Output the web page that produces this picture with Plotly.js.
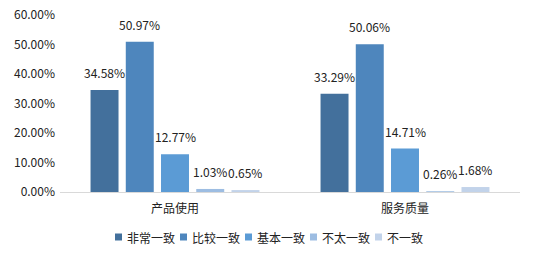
<!DOCTYPE html>
<html><head><meta charset="utf-8">
<script src="https://cdn.plot.ly/plotly-3.0.1.min.js"></script>
<style>html,body{margin:0;padding:0;background:#fff}#c{width:534px;height:257px}</style>
</head><body><div id="c"></div>
<script>
const categories = ["产品使用", "服务质量"];
const seriesNames = ["非常一致", "比较一致", "基本一致", "不太一致", "不一致"];
const s1 = [0.3458, 0.3329];
const s2 = [0.5097, 0.5006];
const s3 = [0.1277, 0.1471];
const s4 = [0.0103, 0.0026];
const s5 = [0.0065, 0.0168];
const series = [s1, s2, s3, s4, s5];
const colors = ["#43709c", "#4e86bd", "#5b9bd5", "#9dbde2", "#c2d3ea"];
const font = "Noto Sans CJK SC, sans-serif";
const W = 534, H = 257, M = {l: 60, r: 14, t: 15, b: 65};
const BARGAP = 0.234, GROUPGAP = 0.206;
const data = series.map((v, i) => ({
  type: "bar", x: categories, y: v, name: seriesNames[i],
  marker: {color: colors[i]},
  hoverinfo: "none", showlegend: false
}));
const pw = W - M.l - M.r, ph = H - M.t - M.b;
const slot = pw / categories.length * (1 - BARGAP) / series.length;
const annotations = [], shapes = [];
// value labels, positioned on the data through the axes
series.forEach((v, i) => {
  v.forEach((val, j) => {
    annotations.push({x: categories[j], y: val, xref: "x", yref: "y",
      xshift: (i - (series.length - 1) / 2) * slot, yshift: 7,
      xanchor: "center", yanchor: "bottom", showarrow: false,
      text: (val * 100).toFixed(2) + "%",
      font: {family: font, size: 12, color: "#222"}});
  });
});
// compact Excel-style legend built from names & colours
const px2x = p => (p - M.l) / pw, py2y = p => (H - M.b - p) / ph;
let cx = 115; const cy = 237, sq = 7;
seriesNames.forEach((n, i) => {
  shapes.push({type: "rect", xref: "paper", yref: "paper",
    x0: px2x(cx), x1: px2x(cx + sq), y0: py2y(cy + sq / 2), y1: py2y(cy - sq / 2),
    fillcolor: colors[i], line: {width: 0}});
  annotations.push({xref: "paper", yref: "paper", x: px2x(cx + sq + 3), y: py2y(cy),
    xanchor: "left", yanchor: "middle", showarrow: false, text: n,
    font: {family: font, size: 12, color: "#222"}});
  cx += sq + 3 + n.length * 12 + 7;
});
const layout = {
  width: W, height: H,
  margin: Object.assign({autoexpand: false}, M),
  paper_bgcolor: "#fff", plot_bgcolor: "#fff",
  barmode: "group", bargap: BARGAP, bargroupgap: GROUPGAP,
  font: {family: font, size: 12, color: "#222"},
  xaxis: {showline: true, linecolor: "#d9d9d9", linewidth: 1, ticks: "", showgrid: false,
          automargin: false, tickfont: {family: font, size: 12, color: "#222"}, ticklen: 0,
          ticklabelstandoff: 6},
  yaxis: {range: [0, 0.6], dtick: 0.1, tickformat: ".2%", showgrid: false, zeroline: false,
          automargin: false, showline: false, ticks: "", ticklen: 0, ticklabelstandoff: 4,
          tickfont: {family: font, size: 12, color: "#222"}},
  shapes: shapes, annotations: annotations,
  showlegend: false
};
Plotly.newPlot("c", data, layout, {displayModeBar: false, staticPlot: true});
</script></body></html>
